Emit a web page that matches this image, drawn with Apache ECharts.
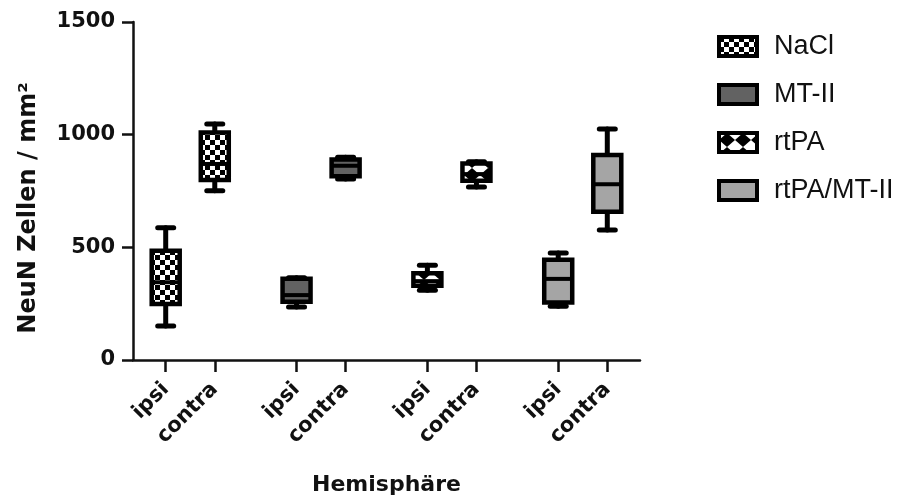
<!DOCTYPE html>
<html>
<head>
<meta charset="utf-8">
<script src="https://cdn.jsdelivr.net/npm/echarts@6/dist/echarts.min.js"></script>
<style>
  html, body { margin: 0; padding: 0; background: #fff; }
  #chart { width: 897px; height: 498px; }
</style>
</head>
<body>
<div id="chart"></div>
<script>
// groups and hemispheres
const groups = ['NaCl', 'MT-II', 'rtPA', 'rtPA/MT-II'];
const hemispheres = ['ipsi', 'contra'];

// box values per hemisphere: [min, Q1, median, Q3, max]
const naclStats = [[151, 249, 345, 485, 587], [751, 799, 870, 1010, 1047]];
const mt2Stats = [[235, 259, 288, 361, 365], [803, 815, 862, 890, 900]];
const rtpaStats = [[310, 330, 350, 385, 420], [768, 795, 825, 872, 880]];
const comboStats = [[238, 255, 360, 445, 475], [577, 658, 780, 910, 1025]];

const yTicks = [0, 500, 1000, 1500];

const allStats = [naclStats, mt2Stats, rtpaStats, comboStats];

// slots on the x axis: gaps between the groups
const slotCount = 32;
const slotOf = (g, h) => 2 + g * 8 + h * 3;
const slots = new Array(slotCount).fill('');
groups.forEach((g, gi) => hemispheres.forEach((h, hi) => { slots[slotOf(gi, hi)] = h; }));

// fill patterns
function tile(w, h, draw) {
  const c = document.createElement('canvas');
  c.width = w; c.height = h;
  draw(c.getContext('2d'));
  return { image: c, repeat: 'repeat' };
}
const checker = tile(10, 10, ctx => {
  ctx.fillStyle = '#fff'; ctx.fillRect(0, 0, 10, 10);
  ctx.fillStyle = '#000'; ctx.fillRect(0, 0, 5, 5); ctx.fillRect(5, 5, 5, 5);
});
const diamonds = tile(16, 14, ctx => {
  ctx.fillStyle = '#fff'; ctx.fillRect(0, 0, 16, 14);
  ctx.fillStyle = '#000';
  ctx.beginPath(); ctx.moveTo(8, 0); ctx.lineTo(16, 7); ctx.lineTo(8, 14); ctx.lineTo(0, 7); ctx.closePath(); ctx.fill();
});
const fills = [checker, '#626262', diamonds, '#a5a5a5'];

function boxRenderer(fill) {
  return function (params, api) {
    const x = api.value(0);
    const lo = api.coord([x, api.value(1)]);
    const q1 = api.coord([x, api.value(2)]);
    const md = api.coord([x, api.value(3)]);
    const q3 = api.coord([x, api.value(4)]);
    const hi = api.coord([x, api.value(5)]);
    const cx = lo[0], half = 14, cap = 8;
    const ln = { stroke: '#000', lineWidth: 5, lineCap: 'round' };
    return {
      type: 'group',
      children: [
        { type: 'line', shape: { x1: cx, y1: hi[1], x2: cx, y2: q3[1] }, style: ln },
        { type: 'line', shape: { x1: cx, y1: q1[1], x2: cx, y2: lo[1] }, style: ln },
        { type: 'line', shape: { x1: cx - cap, y1: hi[1], x2: cx + cap, y2: hi[1] }, style: ln },
        { type: 'line', shape: { x1: cx - cap, y1: lo[1], x2: cx + cap, y2: lo[1] }, style: ln },
        { type: 'rect', shape: { x: cx - half, y: q3[1], width: half * 2, height: q1[1] - q3[1] },
          style: { fill: fill, stroke: '#000', lineWidth: 4.5 } },
        { type: 'line', shape: { x1: cx - half, y1: md[1], x2: cx + half, y2: md[1] },
          style: { stroke: '#000', lineWidth: 4 } }
      ]
    };
  };
}

const chart = echarts.init(document.getElementById('chart'));

const series = groups.map((name, gi) => ({
  name: name,
  type: 'custom',
  itemStyle: { color: fills[gi] },
  renderItem: boxRenderer(fills[gi]),
  encode: { x: 0, y: [1, 2, 3, 4, 5] },
  data: allStats[gi].map((s, hi) => [slotOf(gi, hi)].concat(s))
}));

const boldFont = 'DejaVu Sans';

chart.setOption({
  animation: false,
  grid: { left: 133, top: 22, width: 507, height: 338, outerBoundsMode: 'none' },
  legend: {
    orient: 'vertical',
    left: 712,
    top: 28,
    itemWidth: 38,
    itemHeight: 19,
    itemGap: 21,
    selectedMode: false,
    textStyle: { fontFamily: 'Liberation Sans', fontSize: 27, color: '#111', lineHeight: 19, padding: [0, 0, 0, 12] },
    data: groups.map(name => ({ name: name, icon: 'rect', itemStyle: { borderColor: '#000', borderWidth: 4 } }))
  },
  xAxis: {
    type: 'category',
    data: slots,
    boundaryGap: false,
    name: 'Hemisphäre',
    nameLocation: 'middle',
    nameGap: 114,
    nameTextStyle: { fontFamily: boldFont, fontWeight: 'bold', fontSize: 22, color: '#111' },
    axisLine: { lineStyle: { color: '#111', width: 2.5 } },
    axisTick: { length: 12, lineStyle: { color: '#111', width: 2.5 }, interval: (i, v) => v !== '' },
    axisLabel: {
      interval: (i, v) => v !== '',
      rotate: 45,
      margin: 26,
      fontFamily: boldFont, fontWeight: 'bold', fontSize: 21, color: '#111'
    },
    splitLine: { show: false }
  },
  yAxis: {
    type: 'value',
    min: yTicks[0],
    max: yTicks[yTicks.length - 1],
    interval: yTicks[1] - yTicks[0],
    axisLine: { show: true, lineStyle: { color: '#111', width: 2.5 } },
    axisTick: { show: true, length: 11, lineStyle: { color: '#111', width: 2.5 } },
    axisLabel: { margin: 18, formatter: v => String(v), fontFamily: boldFont, fontWeight: 'bold', fontSize: 21, color: '#111' },
    splitLine: { show: false }
  },
  graphic: [{
    type: 'text',
    x: 29, y: 208,
    rotation: Math.PI / 2,
    style: {
      text: 'NeuN Zellen / mm²',
      font: 'bold 24px "DejaVu Sans"',
      fill: '#111',
      align: 'center',
      verticalAlign: 'middle'
    }
  }],
  series: series
});
</script>
</body>
</html>
